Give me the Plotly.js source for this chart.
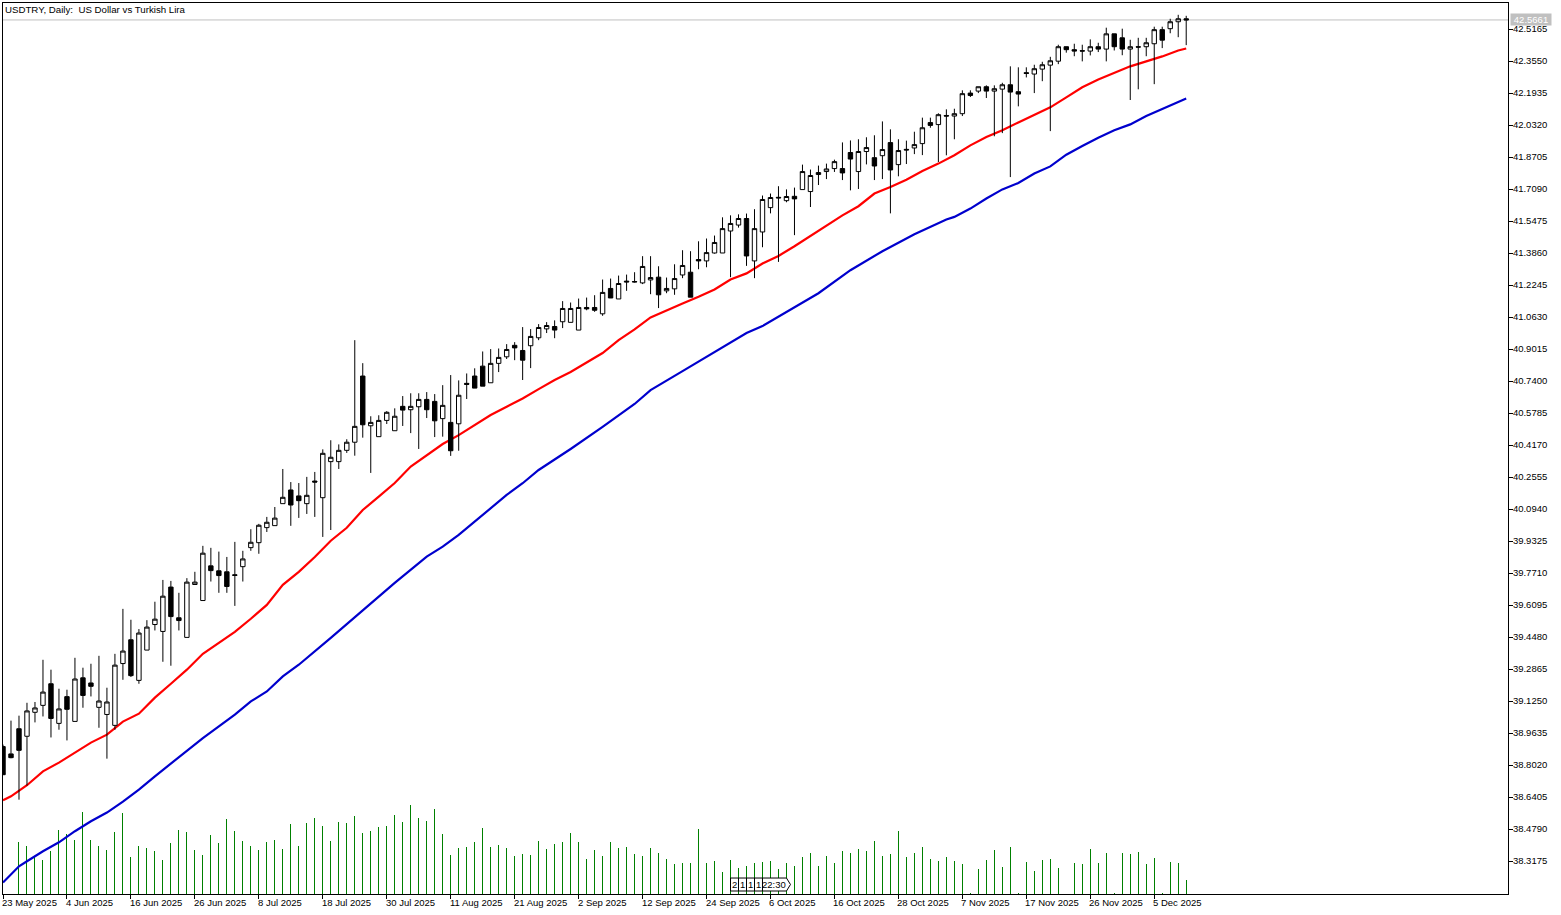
<!DOCTYPE html>
<html>
<head>
<meta charset="utf-8">
<title>USDTRY, Daily</title>
<script src="https://cdn.plot.ly/plotly-3.1.2.min.js"></script>
<style>
  html, body { margin: 0; padding: 0; background: #fff; }
  #chart { width: 1561px; height: 915px; }
</style>
</head>
<body>
<div id="chart"></div>
<script>
const opens = [
  38.899,38.862,38.989,38.951,39.072,39.107,39.216,39.016,39.151,39.026,
  39.246,39.220,39.097,39.061,39.006,39.318,39.438,39.233,39.386,39.515,
  39.480,39.704,39.549,39.450,39.717,39.636,39.811,39.786,39.781,39.766,
  39.807,39.903,39.928,40.004,40.014,40.125,40.194,40.164,40.125,40.239,
  40.155,40.337,40.337,40.394,40.435,40.769,40.518,40.463,40.545,40.493,
  40.616,40.599,40.614,40.651,40.641,40.554,40.535,40.528,40.732,40.769,
  40.819,40.735,40.833,40.866,40.924,40.898,40.922,40.962,41.007,41.019,
  41.043,41.040,41.001,41.115,41.115,41.083,41.211,41.158,41.248,41.246,
  41.239,41.254,41.268,41.199,41.209,41.279,41.293,41.357,41.350,41.390,
  41.390,41.501,41.531,41.564,41.350,41.496,41.619,41.671,41.654,41.676,
  41.710,41.700,41.786,41.801,41.816,41.816,41.897,41.801,41.902,41.871,
  41.881,41.947,41.836,41.913,41.920,41.942,42.048,42.038,42.084,42.081,
  42.093,42.197,42.207,42.229,42.207,42.217,42.239,42.204,42.300,42.293,
  42.318,42.338,42.358,42.431,42.416,42.411,42.409,42.431,42.419,42.496,
  42.476,42.419,42.431,42.431,42.446,42.517,42.522,42.557,42.572,
];
const highs = [
  38.909,39.030,39.055,39.120,39.124,39.337,39.287,39.191,39.186,39.347,
  39.297,39.317,39.357,39.196,39.367,39.594,39.539,39.492,39.537,39.630,
  39.740,39.735,39.675,39.749,39.781,39.912,39.902,39.883,39.856,39.932,
  39.887,39.996,40.023,40.058,40.108,40.300,40.234,40.229,40.260,40.285,
  40.399,40.445,40.424,40.450,40.950,40.834,40.566,40.571,40.592,40.606,
  40.668,40.682,40.682,40.688,40.678,40.723,40.774,40.747,40.782,40.808,
  40.893,40.905,40.908,40.930,40.940,41.016,41.006,41.031,41.041,41.050,
  41.147,41.140,41.160,41.165,41.177,41.256,41.261,41.276,41.281,41.293,
  41.374,41.374,41.323,41.266,41.333,41.404,41.399,41.449,41.463,41.478,
  41.570,41.580,41.585,41.589,41.611,41.680,41.690,41.727,41.711,41.720,
  41.836,41.811,41.831,41.841,41.861,41.948,41.958,41.964,41.974,41.984,
  42.054,42.014,41.964,41.957,42.002,42.073,42.073,42.095,42.115,42.118,
  42.211,42.211,42.229,42.236,42.236,42.249,42.332,42.327,42.327,42.340,
  42.355,42.380,42.441,42.431,42.446,42.441,42.468,42.451,42.527,42.496,
  42.522,42.466,42.476,42.476,42.532,42.532,42.572,42.592,42.587,
];
const lows = [
  38.757,38.840,38.631,38.702,39.021,39.051,38.945,38.984,38.930,39.026,
  39.095,39.152,38.994,38.838,38.984,39.236,39.250,39.216,39.386,39.485,
  39.327,39.307,39.485,39.450,39.717,39.636,39.732,39.675,39.675,39.609,
  39.732,39.887,39.872,39.982,40.014,40.125,40.013,40.053,40.073,40.058,
  39.957,39.992,40.300,40.381,40.367,40.458,40.280,40.463,40.527,40.493,
  40.517,40.481,40.401,40.557,40.461,40.463,40.366,40.392,40.653,40.708,
  40.718,40.735,40.789,40.855,40.849,40.749,40.809,40.950,40.986,40.960,
  41.011,41.040,41.001,41.101,41.093,41.073,41.163,41.158,41.199,41.241,
  41.233,41.182,41.112,41.187,41.179,41.263,41.167,41.308,41.318,41.387,
  41.390,41.268,41.518,41.325,41.263,41.419,41.590,41.345,41.646,41.480,
  41.710,41.622,41.733,41.763,41.799,41.758,41.706,41.713,41.837,41.758,
  41.763,41.590,41.777,41.839,41.889,41.884,42.022,41.849,41.883,41.964,
  42.081,42.177,42.197,42.172,41.979,41.995,41.773,42.130,42.276,42.197,
  42.257,42.005,42.343,42.401,42.383,42.357,42.387,42.404,42.357,42.412,
  42.388,42.162,42.216,42.383,42.242,42.424,42.499,42.479,42.439,
];
const closes = [
  38.757,38.843,38.880,39.079,39.094,39.174,39.041,39.089,39.087,39.240,
  39.157,39.203,39.129,39.124,39.310,39.381,39.257,39.472,39.502,39.542,
  39.658,39.555,39.535,39.729,39.729,39.875,39.787,39.762,39.707,39.763,
  39.846,39.930,40.016,40.031,40.052,40.157,40.118,40.140,40.167,40.234,
  40.379,40.359,40.394,40.435,40.515,40.523,40.535,40.545,40.586,40.566,
  40.597,40.616,40.651,40.599,40.543,40.621,40.392,40.672,40.727,40.708,
  40.718,40.833,40.863,40.903,40.911,40.849,40.969,41.014,41.024,41.001,
  41.110,41.110,41.115,41.108,41.101,41.191,41.163,41.236,41.244,41.244,
  41.322,41.266,41.179,41.211,41.261,41.327,41.167,41.350,41.392,41.443,
  41.513,41.539,41.564,41.375,41.513,41.660,41.670,41.668,41.675,41.663,
  41.801,41.781,41.796,41.814,41.851,41.794,41.864,41.902,41.922,41.829,
  41.912,41.809,41.907,41.910,41.937,42.022,42.034,42.088,42.081,42.093,
  42.194,42.185,42.229,42.207,42.219,42.239,42.202,42.192,42.296,42.320,
  42.340,42.360,42.431,42.416,42.409,42.409,42.431,42.419,42.496,42.431,
  42.419,42.431,42.429,42.451,42.517,42.464,42.557,42.572,42.566,
];
// Tick volume per bar
const volumes = [
  0,4530,5230,4830,3700,3430,4330,6430,6030,5430,
  8230,5430,4830,4430,6230,8130,3730,4830,4630,4330,
  3430,5130,6430,6230,4430,3930,5930,5130,7530,6330,
  5330,4830,4430,5230,5430,4530,7030,4830,7130,7630,
  6830,5330,7230,7130,7830,6130,6330,6730,6830,7930,
  7230,8930,7630,7330,8530,6030,3930,4630,4730,5230,
  6630,4730,4930,4630,3830,4030,3930,5330,4530,5030,
  5230,6130,5230,3530,4430,3830,5230,4630,4730,4030,
  3830,4630,4130,3530,3030,3130,3130,6530,3130,3330,
  2230,3430,2630,2830,3130,3230,3330,2530,3130,2830,
  3730,4130,2830,3830,3130,4330,4130,4530,4330,5330,
  3830,4030,6330,3730,4130,4730,3530,3330,3730,3330,
  3030,130,2530,3430,4430,2730,4730,130,3230,2330,
  3430,3530,2630,0,3130,3030,4530,3130,4130,100,
  4130,4030,4230,3030,3630,100,3230,3130,1430,
];

// Moving averages, read at every other bar or so
const redBars = [0,1,3,5,7,9,11,13,15,17,19,21,23,25,27,29,31,33,35,37,39,41,43,45,47,49,51,53,55,57,59,61,63,65,67,69,71,73,75,77,79,81,83,85,87,89,91,93,95,97,99,101,103,105,107,109,111,113,115,117,119,121,123,125,127,129,131,133,135,137,139,141,143,145,147,148];
const redMa = [
  38.628,38.648,38.704,38.774,38.818,38.868,38.919,38.959,39.025,39.065,
  39.146,39.216,39.287,39.367,39.423,39.478,39.544,39.614,39.715,39.781,
  39.856,39.938,40.003,40.093,40.160,40.229,40.312,40.371,40.426,40.471,
  40.522,40.572,40.614,40.656,40.703,40.749,40.789,40.839,40.885,40.950,
  41.004,41.065,41.098,41.135,41.169,41.206,41.256,41.287,41.337,41.375,
  41.424,41.475,41.525,41.580,41.626,41.690,41.723,41.760,41.804,41.841,
  41.883,41.933,41.975,42.009,42.049,42.085,42.125,42.175,42.226,42.266,
  42.301,42.332,42.357,42.382,42.412,42.422,
];
const blueBars = [0,1,2,3,5,7,9,11,13,15,17,19,21,23,25,27,29,31,33,35,37,41,45,49,53,55,57,59,61,63,65,67,71,75,79,81,85,89,93,95,97,99,101,102,106,110,114,118,119,121,123,125,127,129,131,133,135,137,139,141,143,145,147,148];
const blueMa = [
  38.213,38.253,38.295,38.320,38.371,38.416,38.472,38.522,38.566,38.621,
  38.682,38.749,38.813,38.875,38.942,39.001,39.060,39.127,39.177,39.253,
  39.312,39.448,39.589,39.725,39.858,39.908,39.967,40.034,40.103,40.169,
  40.228,40.295,40.401,40.512,40.628,40.698,40.794,40.890,40.986,41.021,
  41.068,41.115,41.160,41.187,41.303,41.399,41.485,41.559,41.572,41.614,
  41.665,41.711,41.743,41.791,41.827,41.886,41.930,41.972,42.009,42.039,
  42.081,42.118,42.152,42.170,
];

const priceTicks = [
  42.5165,42.3550,42.1935,42.0320,41.8705,41.7090,41.5475,41.3860,41.2245,41.0630,
  40.9015,40.7400,40.5785,40.4170,40.2555,40.0940,39.9325,39.7710,39.6095,39.4480,
  39.2865,39.1250,38.9635,38.8020,38.6405,38.4790,38.3175,
];
const dateTickBars = [0,8,16,24,32,40,48,56,64,72,80,88,96,104,112,120,128,136,144];
const dateTickLabels = [
  "23 May 2025","4 Jun 2025","16 Jun 2025","26 Jun 2025","8 Jul 2025","18 Jul 2025",
  "30 Jul 2025","11 Aug 2025","21 Aug 2025","2 Sep 2025","12 Sep 2025","24 Sep 2025",
  "6 Oct 2025","16 Oct 2025","28 Oct 2025","7 Nov 2025","17 Nov 2025","26 Nov 2025","5 Dec 2025",
];
const lastPrice = 42.5661;
const countdownLabels = ["2", "1", "1", "1", "22:30"];

const W = 1561, H = 915;
const plotL = 2.5, plotR = 1508.5, plotT = 2.5, plotB = 894.5;
const priceRange = [38.155, 42.6516];
const barIndex = opens.map((_, i) => i);
const FONT = "Liberation Sans, Arial, sans-serif";
const TEXT_SIZE = 9.5;

// page pixels to paper coords, for the furniture that is not data
const px = (x) => (x - plotL) / (plotR - plotL);
const py = (y) => (plotB - y) / (plotB - plotT);

const traces = [
  {
    type: "bar", x: barIndex, y: volumes, width: 0.125,
    marker: { color: "#008000", line: { width: 0 } },
    yaxis: "y", hoverinfo: "skip",
  },
  {
    type: "scatter", mode: "lines", x: blueBars, y: blueMa, yaxis: "y2",
    line: { color: "#0000cd", width: 2.2 }, name: "MA slow",
  },
  {
    type: "scatter", mode: "lines", x: redBars, y: redMa, yaxis: "y2",
    line: { color: "#ff0000", width: 2.2 }, name: "MA fast",
  },
  {
    type: "candlestick", x: barIndex, open: opens, high: highs, low: lows, close: closes,
    yaxis: "y3", whiskerwidth: 0,
    increasing: { line: { color: "#000", width: 1 }, fillcolor: "#fff" },
    decreasing: { line: { color: "#000", width: 1 }, fillcolor: "#000" },
  },
];

const annotations = [
  {
    xref: "paper", yref: "paper", x: px(4), y: py(9), xanchor: "left", yanchor: "middle",
    text: "USDTRY, Daily:\u00a0\u00a0US Dollar vs Turkish Lira", showarrow: false,
    font: { family: FONT, size: 9.7, color: "#000" }, borderpad: 0,
  },
  {
    xref: "paper", yref: "y3", x: px(1510.5), y: lastPrice, xanchor: "left", yanchor: "middle",
    text: lastPrice.toFixed(4), showarrow: false, width: 40, height: 11, borderpad: 0,
    bgcolor: "#c0c0c0", font: { family: FONT, size: TEXT_SIZE, color: "#fff" },
  },
];
dateTickBars.forEach((bar, i) => {
  annotations.push({
    xref: "x", yref: "paper", x: bar, y: py(903.5), xanchor: "left", yanchor: "middle", xshift: -2,
    text: dateTickLabels[i], showarrow: false, borderpad: 0,
    font: { family: FONT, size: TEXT_SIZE, color: "#000" },
  });
});

// countdown boxes sitting on the time axis
const countdownEdges = [730.5, 738.5, 746.5, 754.5, 762.5, 786.5];
const shapes = [
  {
    type: "line", xref: "paper", yref: "y3", x0: 0, x1: 1, y0: lastPrice, y1: lastPrice,
    line: { color: "#c0c0c0", width: 1 }, layer: "below",
  },
];
countdownLabels.forEach((label, i) => {
  const x0 = px(countdownEdges[i]), x1 = px(countdownEdges[i + 1]);
  const top = py(878.5), bot = py(891.5);
  const tip = i === countdownLabels.length - 1 ? `L${px(790.5)},${py(885)} ` : "";
  shapes.push({
    type: "path", xref: "paper", yref: "paper", layer: "above",
    path: `M${x0},${bot} L${x0},${top} L${x1},${top} ${tip}L${x1},${bot} Z`,
    line: { color: "#000", width: 1 }, fillcolor: "#fff",
  });
  annotations.push({
    xref: "paper", yref: "paper", x: (x0 + x1) / 2, y: py(885), xanchor: "center", yanchor: "middle",
    text: label, showarrow: false, borderpad: 0,
    font: { family: FONT, size: TEXT_SIZE, color: "#000" },
  });
});

const layout = {
  width: W, height: H,
  margin: { l: plotL, r: W - plotR, t: plotT, b: H - plotB, pad: 0 },
  paper_bgcolor: "#fff", plot_bgcolor: "#fff",
  showlegend: false, hovermode: false, dragmode: false,
  boxgap: 0.45,
  boxgroupgap: 0,
  bargap: 0,
  xaxis: {
    range: [0, (plotR - plotL) / 8], rangeslider: { visible: false }, showgrid: false, zeroline: false,
    tickmode: "array", tickvals: dateTickBars, showticklabels: false,
    ticks: "outside", ticklen: 4, tickwidth: 1, tickcolor: "#000",
    showline: true, mirror: true, linecolor: "#000", linewidth: 1,
  },
  yaxis: {
    range: [0, 89200], showgrid: false, zeroline: false, showticklabels: false, ticks: "",
    showline: true, linecolor: "#000", linewidth: 1, side: "left",
  },
  yaxis2: {
    range: priceRange, overlaying: "y", showgrid: false, zeroline: false,
    showticklabels: false, ticks: "", showline: false, side: "right",
  },
  yaxis3: {
    range: priceRange, overlaying: "y", side: "right", showgrid: false, zeroline: false,
    tickmode: "array", tickvals: priceTicks, ticktext: priceTicks.map((v) => v.toFixed(4)),
    ticks: "outside", ticklen: 4, tickwidth: 1, tickcolor: "#000",
    ticklabelstandoff: -2, ticklabelshift: -1,
    tickfont: { family: FONT, size: TEXT_SIZE, color: "#000" },
    showline: true, linecolor: "#000", linewidth: 1,
  },
  font: { family: FONT, size: TEXT_SIZE, color: "#000" },
  shapes, annotations,
};

Plotly.newPlot("chart", traces, layout, { displayModeBar: false, staticPlot: true });
</script>
</body>
</html>
